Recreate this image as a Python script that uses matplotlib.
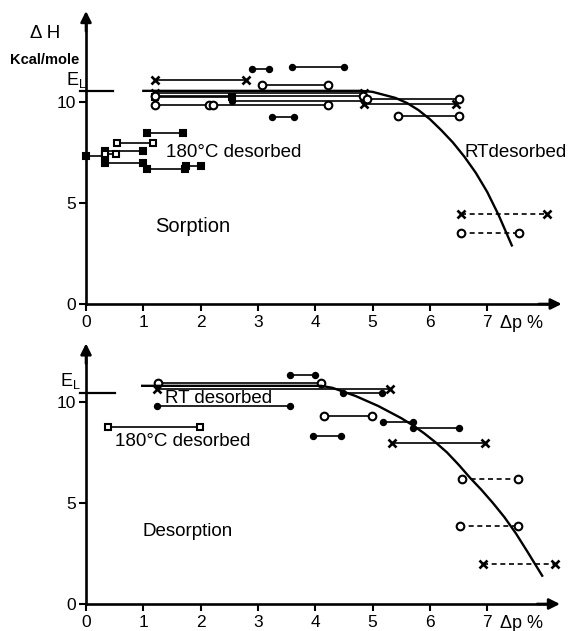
import numpy as np
import matplotlib.pyplot as plt

plt.rcParams['font.family'] = ['Liberation Sans', 'DejaVu Sans']

# heat of adsorption intervals: (dp start, dp end, dH) in %, kcal/mole
sorp_cross = [(1.2, 2.8, 11.1), (1.2, 4.85, 10.45), (4.85, 6.45, 9.9)]
sorp_cross_rt = [(6.55, 8.05, 4.45)]
sorp_open = [(3.07, 4.22, 10.85), (1.2, 4.83, 10.3), (4.9, 6.5, 10.15),
             (1.2, 2.15, 9.85), (2.22, 4.22, 9.85), (5.45, 6.5, 9.3)]
sorp_open_rt = [(6.55, 7.55, 3.5)]
sorp_dot = [(2.9, 3.2, 11.65), (3.6, 4.5, 11.75), (3.25, 3.63, 9.25),
            (2.55, 4.85, 10.05)]
sorp_sq = [(1.06, 1.69, 8.45), (0.33, 1.0, 7.55), (0.0, 0.33, 7.35),
           (0.33, 1.0, 7.0), (1.06, 1.73, 6.68), (1.75, 2.0, 6.85),
           (1.2, 2.55, 10.25)]
sorp_sq_open = [(0.54, 1.17, 7.95), (0.33, 0.52, 7.42)]
sorp_curve_x = [1.0, 4.8, 5.0, 5.2, 5.4, 5.6, 5.8, 6.0, 6.2, 6.4, 6.6,
                6.8, 7.0, 7.2, 7.43]
sorp_curve_y = [10.55, 10.55, 10.5, 10.35, 10.2, 9.95, 9.6, 9.15, 8.6,
                8.0, 7.3, 6.5, 5.55, 4.4, 2.9]
sorp_el = 10.55

desorp_cross = [(1.24, 5.3, 10.65), (5.34, 6.96, 7.97)]
desorp_cross_rt = [(6.93, 8.19, 1.98)]
desorp_open = [(1.26, 4.1, 10.94), (4.15, 4.99, 9.3)]
desorp_open_rt = [(6.56, 7.54, 6.19), (6.53, 7.54, 3.86)]
desorp_dot = [(3.56, 4.0, 11.34), (1.24, 3.56, 9.8), (4.49, 5.17, 10.45),
              (5.18, 5.71, 9.0), (5.71, 6.51, 8.7), (3.96, 4.45, 8.3)]
desorp_sq_open = [(0.38, 1.99, 8.76)]
desorp_curve_x = [0.98, 4.1, 4.3, 4.5, 4.7, 4.9, 5.1, 5.3, 5.5, 5.7, 5.9,
                  6.1, 6.3, 6.5, 6.7, 6.9, 7.1, 7.3, 7.5, 7.7, 7.96]
desorp_curve_y = [10.8, 10.8, 10.7, 10.5, 10.3, 10.05, 9.8, 9.5, 9.2,
                  8.85, 8.45, 8.0, 7.5, 6.9, 6.25, 5.65, 5.0, 4.3, 3.5,
                  2.6, 1.4]
desorp_el = 10.45

xticks = [0, 1, 2, 3, 4, 5, 6, 7]
yticks = [0, 5, 10]


def segments(ax, rows, marker, face, ms, dashed=False):
    for x1, x2, y in rows:
        ax.plot([x1, x2], [y, y], color='k', lw=1.2,
                ls=(0, (3, 2.2)) if dashed else '-',
                marker=marker, ms=ms, mfc=face, mec='k',
                mew=1.9 if marker == 'x' else 1.5,
                clip_on=False, zorder=3)


def frame(ax, xmax, ymax):
    ax.patch.set_visible(False)
    for s in ['top', 'right']:
        ax.spines[s].set_visible(False)
    ax.spines['left'].set_position(('data', 0))
    ax.spines['bottom'].set_position(('data', 0))
    ax.spines['left'].set_bounds(0, ymax - 0.3)
    ax.spines['bottom'].set_bounds(0, xmax - 0.2)
    for s in ['left', 'bottom']:
        ax.spines[s].set_linewidth(1.9)
    ax.annotate('', xy=(xmax, 0), xytext=(xmax - 0.4, 0),
                arrowprops=dict(arrowstyle='-|>', color='k', lw=1.9,
                                mutation_scale=16, shrinkA=0, shrinkB=0),
                annotation_clip=False)
    ax.annotate('', xy=(0, ymax), xytext=(0, ymax - 1.0),
                arrowprops=dict(arrowstyle='-|>', color='k', lw=1.9,
                                mutation_scale=16, shrinkA=0, shrinkB=0),
                annotation_clip=False)
    ax.set_xticks(xticks)
    ax.set_yticks(yticks)
    ax.tick_params(direction='out', length=5, width=1.5, labelsize=12.5,
                   pad=2)
    ax.tick_params(axis='x', pad=3)
    ax.text(7.6, -0.95, 'Δp %', fontsize=13, ha='center', va='center')


fig = plt.figure(figsize=(5.74, 6.31), dpi=100)

# sorption
ax1 = fig.add_axes([0.1199, 0.4926, 0.8786, 0.4995])
ax1.set_xlim(-0.3, 8.5)
ax1.set_ylim(-0.8, 14.8)
frame(ax1, 8.3, 14.5)
ax1.plot([-0.1, 0.47], [sorp_el, sorp_el], color='k', lw=1.6, clip_on=False)
ax1.plot(sorp_curve_x, sorp_curve_y, color='k', lw=1.7, zorder=4)
segments(ax1, sorp_cross, 'x', 'none', 5.5)
segments(ax1, sorp_cross_rt, 'x', 'none', 5.5, dashed=True)
segments(ax1, sorp_sq, 's', 'k', 4.5)
segments(ax1, sorp_sq_open, 's', 'white', 4.5)
segments(ax1, sorp_dot, 'o', 'k', 3.8)
segments(ax1, sorp_open, 'o', 'white', 5.5)
segments(ax1, sorp_open_rt, 'o', 'white', 5.5, dashed=True)
ax1.text(-0.72, 13.37, 'Δ H', fontsize=13.5, ha='center', va='center')
ax1.text(-0.72, 12.08, 'Kcal/mole', fontsize=10.5, fontweight='bold',
         ha='center', va='center')
ax1.text(-0.17, 11.1, r'E$_\mathregular{L}$', fontsize=13, ha='center',
         va='center')
ax1.text(1.4, 7.52, '180°C desorbed', fontsize=13.5, va='center')
ax1.text(6.6, 7.52, 'RTdesorbed', fontsize=13.5, va='center')
ax1.text(1.2, 3.86, 'Sorption', fontsize=14.5, va='center')

# desorption
ax2 = fig.add_axes([0.1199, 0.0108, 0.8786, 0.4674])
ax2.set_xlim(-0.3, 8.5)
ax2.set_ylim(-1.0, 13.6)
frame(ax2, 8.27, 12.9)
ax2.plot([-0.1, 0.5], [desorp_el, desorp_el], color='k', lw=1.6,
         clip_on=False)
ax2.plot(desorp_curve_x, desorp_curve_y, color='k', lw=1.7, zorder=4,
         clip_on=False)
segments(ax2, desorp_cross, 'x', 'none', 5.5)
segments(ax2, desorp_cross_rt, 'x', 'none', 5.5, dashed=True)
segments(ax2, desorp_sq_open, 's', 'white', 4.5)
segments(ax2, desorp_dot, 'o', 'k', 3.8)
segments(ax2, desorp_open, 'o', 'white', 5.5)
segments(ax2, desorp_open_rt, 'o', 'white', 5.5, dashed=True)
ax2.text(-0.28, 11.04, r'E$_\mathregular{L}$', fontsize=13, ha='center',
         va='center')
ax2.text(1.38, 10.15, 'RT desorbed', fontsize=13.5, va='center')
ax2.text(0.51, 8.02, '180°C desorbed', fontsize=13.5, va='center')
ax2.text(0.98, 3.61, 'Desorption', fontsize=13.5, va='center')

fig.savefig('out.png', dpi=100)
